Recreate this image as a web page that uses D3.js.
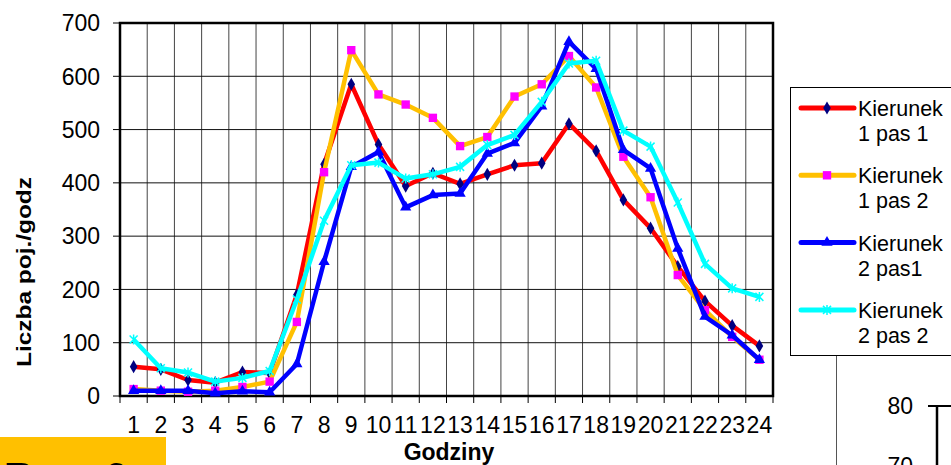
<!DOCTYPE html>
<html>
<head>
<meta charset="utf-8">
<script src="https://cdn.jsdelivr.net/npm/d3@7"></script>
<style>
	body { margin: 0; background: #fff; }
	svg { display: block; font-family: 'Liberation Sans', Arial, sans-serif; }
</style>
</head>
<body>
<div id="chart"></div>
<script>
const hours = ['1','2','3','4','5','6','7','8','9','10','11','12','13','14','15','16','17','18','19','20','21','22','23','24'];
const yTicks = [0, 100, 200, 300, 400, 500, 600, 700];

const k1p1 = [55, 50, 30, 25, 45, 43, 190, 435, 585, 472, 394, 418, 398, 416, 433, 437, 511, 460, 368, 315, 243, 178, 132, 94];
const k1p2 = [13, 10, 8, 10, 17, 27, 139, 420, 649, 566, 547, 522, 469, 486, 562, 585, 638, 579, 449, 373, 227, 161, 111, 68];
const k2p1 = [10, 10, 10, 5, 9, 7, 60, 252, 430, 458, 354, 377, 380, 455, 475, 544, 665, 614, 462, 427, 277, 149, 114, 68];
const k2p2 = [106, 52, 44, 27, 34, 47, 181, 329, 433, 438, 408, 416, 430, 471, 490, 552, 624, 629, 498, 468, 363, 248, 202, 186];

const seriesNames = [['Kierunek', '1 pas 1'], ['Kierunek', '1 pas 2'], ['Kierunek', '2 pas1'], ['Kierunek', '2 pas 2']];

const W = 951, H = 465;
const plot = { left: 120, top: 23, right: 773, bottom: 396 };

const svg = d3.select('#chart').append('svg').attr('width', W).attr('height', H);

const x = d3.scaleBand().domain(hours).range([plot.left, plot.right]).padding(0);
const y = d3.scaleLinear().domain([0, 700]).range([plot.bottom, plot.top]);

// grid
const bounds = hours.map(h => x(h)).concat([plot.right]);
svg.append('g').selectAll('line').data(bounds.slice(1, -1)).join('line')
	.attr('x1', d => d).attr('x2', d => d).attr('y1', plot.top).attr('y2', plot.bottom)
	.attr('stroke', '#444').attr('stroke-width', 1);
svg.append('g').selectAll('line').data(yTicks.slice(1, -1)).join('line')
	.attr('x1', plot.left).attr('x2', plot.right).attr('y1', d => y(d)).attr('y2', d => y(d))
	.attr('stroke', '#111').attr('stroke-width', 1);

// ticks
svg.append('g').selectAll('line').data(yTicks).join('line')
	.attr('x1', plot.left - 7).attr('x2', plot.left).attr('y1', d => y(d)).attr('y2', d => y(d))
	.attr('stroke', '#000').attr('stroke-width', 1);
svg.append('g').selectAll('line').data(bounds).join('line')
	.attr('x1', d => d).attr('x2', d => d).attr('y1', plot.bottom).attr('y2', plot.bottom + 7)
	.attr('stroke', '#000').attr('stroke-width', 1);

svg.append('g').selectAll('text').data(yTicks).join('text')
	.attr('x', 100).attr('y', d => y(d)).attr('dy', '0.36em')
	.attr('text-anchor', 'end').attr('font-size', 23).text(d => d);
svg.append('g').selectAll('text').data(hours).join('text')
	.attr('x', d => x(d) + x.bandwidth() / 2).attr('y', 433)
	.attr('text-anchor', 'middle').attr('font-size', 23).text(d => d);

// frame
svg.append('rect').attr('x', plot.left).attr('y', plot.top)
	.attr('width', plot.right - plot.left).attr('height', plot.bottom - plot.top)
	.attr('fill', 'none').attr('stroke', '#000').attr('stroke-width', 2.5);

// titles
svg.append('text').attr('transform', 'translate(31,272) rotate(-90)')
	.attr('text-anchor', 'middle').attr('font-size', 21).attr('font-weight', 'bold')
	.attr('textLength', 190).attr('lengthAdjust', 'spacingAndGlyphs')
	.text('Liczba poj./godz');
svg.append('text').attr('x', 449).attr('y', 460)
	.attr('text-anchor', 'middle').attr('font-size', 23).attr('font-weight', 'bold').text('Godziny');

// markers
const starPath = 'M-4,-4L4,4M-4,4L4,-4M0,-5L0,5';
const series = [
	{ data: k1p1, color: '#FF0000', mark: d3.symbol(d3.symbolDiamond, 50)(), fill: '#000080', stroke: 'none' },
	{ data: k1p2, color: '#FFC000', mark: d3.symbol(d3.symbolSquare, 70)(), fill: '#FF00FF', stroke: 'none' },
	{ data: k2p1, color: '#0000FF', mark: d3.symbol(d3.symbolTriangle, 55)(), fill: '#0000FF', stroke: 'none' },
	{ data: k2p2, color: '#00FFFF', mark: starPath, fill: 'none', stroke: '#00FFFF' }
];

const line = d3.line()
	.x((d, i) => x(hours[i]) + x.bandwidth() / 2)
	.y(d => y(d));

series.forEach(s => {
	svg.append('path').datum(s.data).attr('d', line)
		.attr('fill', 'none').attr('stroke', s.color).attr('stroke-width', 4.5)
		.attr('stroke-linejoin', 'round');
	svg.append('g').selectAll('path').data(s.data).join('path')
		.attr('transform', (d, i) => `translate(${x(hours[i]) + x.bandwidth() / 2},${y(d)})`)
		.attr('d', s.mark).attr('fill', s.fill).attr('stroke', s.stroke).attr('stroke-width', 1.5);
});

// legend
const legend = svg.append('g');
legend.append('rect').attr('x', 790.5).attr('y', 87.5).attr('width', 220).attr('height', 268)
	.attr('fill', '#fff').attr('stroke', '#000').attr('stroke-width', 1);
series.forEach((s, i) => {
	const ly = 108 + i * 67.3;
	legend.append('line').attr('x1', 801).attr('x2', 854).attr('y1', ly).attr('y2', ly)
		.attr('stroke', s.color).attr('stroke-width', 5).attr('stroke-linecap', 'round');
	legend.append('path').attr('transform', `translate(827,${ly})`).attr('d', s.mark)
		.attr('fill', s.fill).attr('stroke', s.stroke).attr('stroke-width', 1.5);
	legend.append('text').attr('x', 858).attr('y', ly + 8).attr('font-size', 21.5).text(seriesNames[i][0]);
	legend.append('text').attr('x', 858).attr('y', ly + 33).attr('font-size', 21.5).text(seriesNames[i][1]);
});

// pieces of neighbouring figures cut by the crop
svg.append('line').attr('x1', 836.5).attr('x2', 836.5).attr('y1', 356).attr('y2', H)
	.attr('stroke', '#555').attr('stroke-width', 1);
svg.append('text').attr('x', 913).attr('y', 406).attr('dy', '0.36em')
	.attr('text-anchor', 'end').attr('font-size', 23).text('80');
svg.append('text').attr('x', 913).attr('y', 466).attr('dy', '0.36em')
	.attr('text-anchor', 'end').attr('font-size', 23).text('70');
svg.append('line').attr('x1', 928).attr('x2', W).attr('y1', 406).attr('y2', 406)
	.attr('stroke', '#000').attr('stroke-width', 2);
svg.append('line').attr('x1', 937).attr('x2', 937).attr('y1', 405).attr('y2', H)
	.attr('stroke', '#000').attr('stroke-width', 2.5);

svg.append('rect').attr('x', 0).attr('y', 437).attr('width', 166).attr('height', 28).attr('fill', '#FFC000');
svg.append('text').attr('x', 3).attr('y', 494).attr('font-size', 44).text('Rys. 6');
</script>
</body>
</html>
